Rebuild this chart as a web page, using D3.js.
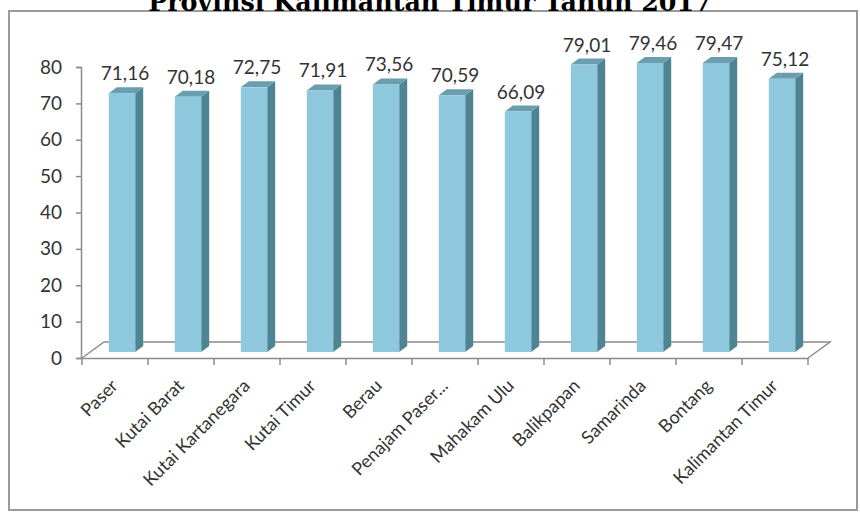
<!DOCTYPE html>
<html>
<head>
<meta charset="utf-8">
<script src="https://cdn.jsdelivr.net/npm/d3@7"></script>
<style>
  body { margin: 0; background: #fff; }
  svg { display: block; }
</style>
</head>
<body>
<svg id="chart"></svg>
<script>
const titleText = "Provinsi Kalimantan Timur Tahun 2017";
const regions = ["Paser", "Kutai Barat", "Kutai Kartanegara", "Kutai Timur", "Berau",
    "Penajam Paser...", "Mahakam Ulu", "Balikpapan", "Samarinda", "Bontang", "Kalimantan Timur"];
const values = [71.16, 70.18, 72.75, 71.91, 73.56, 70.59, 66.09, 79.01, 79.46, 79.47, 75.12];
const yTicks = [0, 10, 20, 30, 40, 50, 60, 70, 80];

const W = 860, H = 512;
const font = "Lato, 'Open Sans', sans-serif";

let svg = d3.select("#chart")
    .attr("width", W)
    .attr("height", H);

// outer frame
svg.append("rect")
    .attr("x", 9).attr("y", 11)
    .attr("width", 848).attr("height", 499)
    .attr("fill", "#fff")
    .attr("stroke", "#9a9a9a")
    .attr("stroke-width", 2);

// title, partly cut off at the top like the source
let title = svg.append("text")
    .text(titleText)
    .attr("x", 430)
    .attr("y", 11)
    .attr("text-anchor", "middle")
    .attr("font-family", "'DejaVu Serif', serif")
    .attr("font-weight", "bold")
    .attr("font-size", 22)
    .attr("fill", "#000");
let tw = title.node().getComputedTextLength();
title.attr("font-size", 22 * 564 / tw);

const x = d3.scaleBand().domain(regions).range([82, 808]).padding(0);
const y = d3.scaleLinear().domain([0, 80]).range([358, 67]);

// floor (3d depth)
const dX = 22, dY = -16;
const floor = [[82, y(0)], [808, y(0)], [808 + dX, y(0) + dY], [82 + dX, y(0) + dY]];
svg.append("path")
    .attr("d", "M" + floor[1] + "L" + floor[2] + "L" + floor[3] + "L" + floor[0])
    .attr("fill", "none")
    .attr("stroke", "#8c8c8c")
    .attr("stroke-width", 1.5);

// y axis
let yAxis = svg.append("g")
    .attr("transform", "translate(81,0)")
    .call(d3.axisLeft(y).tickValues(yTicks).tickSize(5).tickPadding(14));
yAxis.select(".domain").attr("stroke", "#8c8c8c").attr("stroke-width", 1.5);
yAxis.selectAll(".tick line").attr("stroke", "#8c8c8c").attr("stroke-width", 1.5);
yAxis.selectAll(".tick text")
    .attr("font-family", font)
    .attr("font-size", 19)
    .attr("fill", "#333");

// x axis
let xAxis = svg.append("g")
    .attr("transform", "translate(0," + y(0) + ")")
    .call(d3.axisBottom(x).tickSize(0).tickFormat(""));
xAxis.select(".domain").attr("stroke", "#8c8c8c").attr("stroke-width", 1.5);
xAxis.selectAll(".boundary")
    .data(regions.map(d => x(d)).concat([808]))
    .enter()
    .append("line")
    .attr("x1", d => d).attr("x2", d => d)
    .attr("y1", 0).attr("y2", 7)
    .attr("stroke", "#8c8c8c")
    .attr("stroke-width", 1.5);

svg.append("g")
    .selectAll("text")
    .data(regions)
    .enter()
    .append("text")
    .text(d => d)
    .attr("transform", d => "translate(" + (x(d) + x.bandwidth() / 2 + 4) + ",387) rotate(-45)")
    .attr("text-anchor", "end")
    .attr("font-family", font)
    .attr("font-size", 18)
    .attr("fill", "#333");

// bars
const shiftX = 7, shiftY = -6, sideX = 8, sideY = -6;
const faceW = x.bandwidth() * 0.4;
const fx = d => x(d) + (x.bandwidth() - faceW) / 2 + shiftX;

let bars = svg.append("g")
    .selectAll("g")
    .data(regions.map((r, i) => ({ r: r, v: values[i] })))
    .enter()
    .append("g");

bars.append("path")
    .attr("d", d => {
        let x0 = fx(d.r) + faceW, yt = y(d.v) + shiftY, yb = y(0) + shiftY;
        return "M" + x0 + "," + yt + "L" + (x0 + sideX) + "," + (yt + sideY) +
            "L" + (x0 + sideX) + "," + (yb + sideY) + "L" + x0 + "," + yb + "Z";
    })
    .attr("fill", "#4d8393");

bars.append("path")
    .attr("d", d => {
        let x0 = fx(d.r), yt = y(d.v) + shiftY;
        return "M" + x0 + "," + yt + "L" + (x0 + sideX) + "," + (yt + sideY) +
            "L" + (x0 + faceW + sideX) + "," + (yt + sideY) + "L" + (x0 + faceW) + "," + yt + "Z";
    })
    .attr("fill", "#6a9dad");

bars.append("rect")
    .attr("x", d => fx(d.r))
    .attr("y", d => y(d.v) + shiftY)
    .attr("width", faceW)
    .attr("height", d => y(0) - y(d.v))
    .attr("fill", "#8ec8dc");

bars.append("text")
    .text(d => d3.format(".2f")(d.v).replace(".", ","))
    .attr("x", d => fx(d.r) + faceW / 2 + 3)
    .attr("y", d => y(d.v) + shiftY - 13)
    .attr("text-anchor", "middle")
    .attr("font-family", font)
    .attr("font-size", 19)
    .attr("fill", "#333");
</script>
</body>
</html>
